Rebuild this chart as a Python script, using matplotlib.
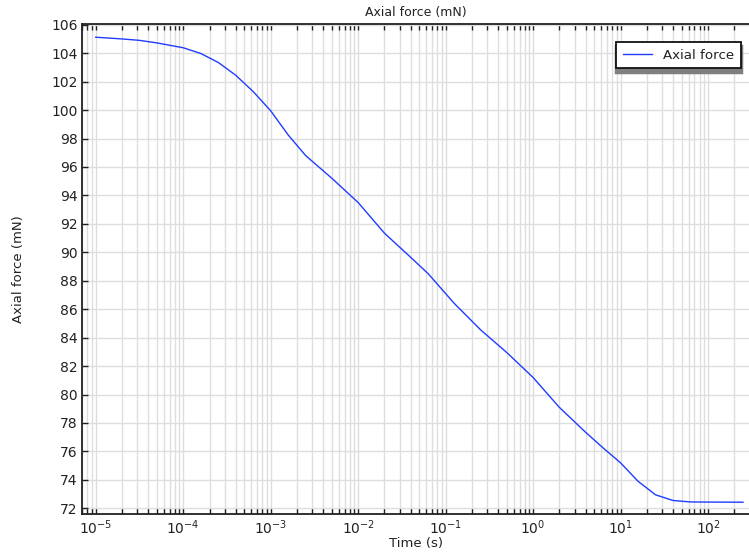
import numpy as np
import matplotlib
matplotlib.use("Agg")
import matplotlib.pyplot as plt
from matplotlib.ticker import FixedLocator, NullFormatter, LogFormatterSciNotation

log_time = [-5.0, -4.7, -4.5, -4.3, -4.0, -3.8, -3.6, -3.4, -3.2, -3.0, -2.8, -2.6,
            -2.3, -2.0, -1.7, -1.4, -1.2, -0.9, -0.6, -0.3, 0.0, 0.3, 0.6, 0.8,
            1.0, 1.2, 1.4, 1.6, 1.8, 2.0, 2.4]
axial_force = [105.12, 105.0, 104.9, 104.72, 104.38, 103.98, 103.35, 102.45, 101.3,
               99.95, 98.25, 96.8, 95.2, 93.5, 91.35, 89.65, 88.5, 86.4, 84.55,
               82.95, 81.2, 79.1, 77.35, 76.25, 75.2, 73.9, 72.95, 72.55, 72.45,
               72.44, 72.43]
time = [10 ** v for v in log_time]
y_ticks = list(range(72, 107, 2))
x_major = [1e-5, 1e-4, 1e-3, 1e-2, 1e-1, 1e0, 1e1, 1e2]

x_minor = [m * d for d in [1e-6] + x_major for m in range(2, 10)]
x_minor = [v for v in x_minor if 6.97e-6 <= v <= 300]

plt.rcParams['font.family'] = ['DejaVu Sans']
fig = plt.figure(figsize=(7.49, 5.53), dpi=100)
ax = fig.add_axes([0.1095, 0.0705, 0.8915, 0.8861])

grid_c = '#dedede'
ax.plot(time, axial_force, color='#1f3cff', lw=1.0, label='Axial force', zorder=3)
ax.set_xscale('log')
ax.set_xlim(6.97e-6, 300)
ax.set_ylim(71.6, 106.05)
ax.yaxis.set_major_locator(FixedLocator(y_ticks))
ax.xaxis.set_major_locator(FixedLocator(x_major))
ax.xaxis.set_major_formatter(LogFormatterSciNotation())
ax.xaxis.set_minor_locator(FixedLocator(x_minor))
ax.xaxis.set_minor_formatter(NullFormatter())

ax.grid(True, which='major', color=grid_c, lw=1.0, zorder=0)
ax.grid(True, which='minor', axis='x', color=grid_c, lw=1.0, zorder=0)

for s in ['left', 'bottom', 'top']:
    ax.spines[s].set_linewidth(1.3)
    ax.spines[s].set_color('#222222')
ax.spines['right'].set_visible(False)

ax.tick_params(axis='both', which='both', direction='in', length=4.5, width=1.0,
               color='#222222', labelsize=10, labelcolor='#222222')
ax.tick_params(axis='x', which='both', top=True, bottom=True, pad=3.5)
ax.tick_params(axis='y', which='both', left=True, right=False, pad=3)

ax.set_title('Axial force (mN)', fontsize=9, color='#222222', pad=6)
ax.set_xlabel('Time (s)', fontsize=9.5, color='#222222', labelpad=0)
ax.set_ylabel('Axial force (mN)', fontsize=9.5, color='#222222', labelpad=19)

leg = ax.legend(loc='upper right', bbox_to_anchor=(0.9865, 0.963), fancybox=False,
                shadow={'ox': 0, 'oy': -2.5, 'facecolor': '#7f7f7f', 'edgecolor': '#7f7f7f',
                        'alpha': 1, 'linewidth': 2.5},
                framealpha=1, edgecolor='#111111', fontsize=9.6, handlelength=2.2,
                borderpad=0.5, borderaxespad=0)
leg.get_frame().set_linewidth(1.3)
for t in leg.get_texts():
    t.set_color('#222222')

fig.savefig('out.png', dpi=100)
